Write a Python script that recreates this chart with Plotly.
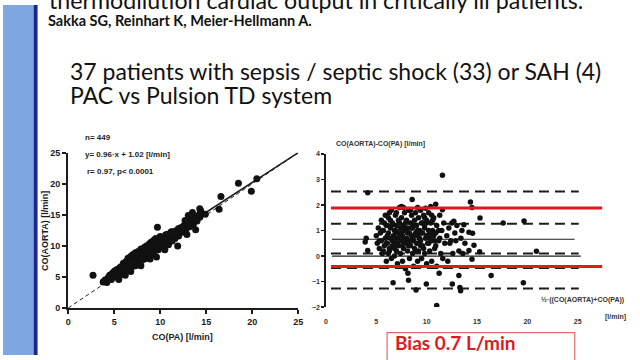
import plotly.graph_objects as go

# ---------------- data ----------------
# Left: CO(PA) vs CO(AORTA) [l/min]
co_pa = [3.8, 4.0, 4.2, 4.4, 4.5, 4.7, 4.8, 5.0, 5.0, 5.2, 5.3, 5.4, 5.5, 5.6, 5.7, 5.8, 5.9, 6.0, 6.0, 6.1,
         6.2, 6.3, 6.4, 6.5, 6.5, 6.6, 6.7, 6.8, 6.8, 6.9, 7.0, 7.0, 7.1, 7.2, 7.3, 7.3, 7.4, 7.5, 7.5, 7.6,
         7.7, 7.8, 7.8, 7.9, 8.0, 8.0, 8.1, 8.2, 8.3, 8.3, 8.4, 8.5, 8.5, 8.6, 8.7, 8.8, 8.8, 8.9, 9.0, 9.0,
         9.1, 9.2, 9.3, 9.3, 9.4, 9.5, 9.5, 9.6, 9.7, 9.8, 9.8, 9.9, 10.0, 10.0, 10.1, 10.2, 10.3, 10.4, 10.5, 10.6,
         10.7, 10.8, 10.9, 11.0, 11.1, 11.2, 11.3, 11.4, 11.5, 11.6, 11.8, 12.0, 12.2, 12.4, 12.6, 12.8, 13.0, 13.2, 13.4, 13.6,
         13.8, 14.0, 14.2, 5.5, 6.2, 7.9, 9.6, 8.9, 2.7, 9.7, 11.9, 12.9, 12.7, 13.85, 13.05, 14.4, 14.3, 14.9, 16.4, 16.6,
         18.5, 19.9, 20.5, 13.5, 12.4, 11.5, 10.5, 10.7, 6.8,
         4.3, 4.6, 4.9, 5.1, 5.4, 5.7, 5.9, 6.2, 6.4, 6.6,
         6.9, 7.1, 7.3, 7.6, 7.8, 8.1, 8.3, 8.6, 8.8, 9.1,
         9.3, 9.6, 9.8, 10.1, 10.3, 10.6, 10.8, 11.1, 11.4, 11.7,
         5.2, 5.8, 6.3, 6.8, 7.3, 7.8, 8.3, 8.8, 9.3, 9.8,
         10.3, 10.8, 11.3, 12.0, 12.5, 13.1, 13.7, 14.3, 6.0, 7.0]
co_aorta = [4.2, 4.5, 4.1, 4.9, 5.3, 4.6, 5.6, 5.1, 5.9, 5.5, 6.2, 4.9, 5.8, 6.5, 6.0, 5.4, 6.8, 6.3, 7.2, 5.8,
            6.9, 7.5, 6.4, 7.0, 8.0, 6.0, 7.6, 7.1, 8.3, 6.6, 7.8, 8.6, 7.2, 8.1, 6.8, 8.9, 7.6, 8.4, 7.0, 9.1,
            8.0, 7.4, 8.7, 9.5, 8.3, 7.7, 9.0, 8.5, 9.8, 7.9, 9.2, 8.7, 10.0, 8.2, 9.5, 9.0, 10.3, 8.5, 9.8, 10.6,
            9.2, 10.1, 8.8, 10.9, 9.6, 10.4, 11.2, 9.9, 10.7, 9.4, 11.0, 10.2, 10.8, 11.5, 9.9, 10.5, 11.3, 10.0, 11.0, 11.8,
            10.6, 11.4, 10.2, 11.9, 11.0, 12.3, 10.8, 11.6, 12.0, 11.2, 12.5, 11.6, 12.9, 12.2, 13.3, 12.7, 13.6, 13.1, 14.2, 13.5,
            14.6, 14.0, 15.0, 4.6, 5.3, 6.8, 8.2, 7.9, 5.3, 13.0, 10.0, 11.85, 14.1, 12.6, 14.9, 15.65, 16.0, 15.1, 15.9, 17.95,
            20.1, 18.8, 20.8, 15.4, 13.05, 11.5, 9.4, 10.4, 5.9,
            4.8, 5.2, 5.5, 6.0, 6.1, 6.6, 6.2, 7.1, 7.3, 7.0,
            7.8, 7.7, 8.2, 8.3, 8.8, 8.9, 9.0, 9.6, 9.4, 10.0,
            9.9, 10.6, 10.6, 11.0, 10.9, 11.5, 11.3, 11.7, 12.3, 12.4,
            5.8, 6.5, 6.8, 7.4, 7.9, 8.0, 9.1, 9.8, 10.2, 10.6,
            10.8, 11.9, 12.0, 12.8, 13.0, 13.8, 14.3, 14.6, 6.6, 7.5]
identity_x = [0, 25]
identity_y = [0, 25]
reg_x = [3.5, 25]
reg_y = [4.38, 25.02]

# Right: Bland-Altman, mean vs difference [l/min]
ba_mean = [3.9, 4.0, 5.0, 5.1, 5.2, 5.3, 5.4, 5.5, 5.5, 5.6, 5.7, 5.8, 5.9, 5.9, 6.0, 6.0, 6.1, 6.2, 6.2, 6.3,
           6.4, 6.4, 6.5, 6.5, 6.6, 6.6, 6.7, 6.8, 6.8, 6.9, 6.9, 7.0, 7.0, 7.1, 7.1, 7.2, 7.2, 7.3, 7.3, 7.4,
           7.4, 7.5, 7.5, 7.6, 7.6, 7.7, 7.7, 7.8, 7.8, 7.9, 7.9, 8.0, 8.0, 8.1, 8.1, 8.2, 8.2, 8.3, 8.3, 8.4,
           8.4, 8.5, 8.5, 8.6, 8.6, 8.7, 8.7, 8.8, 8.8, 8.9, 8.9, 9.0, 9.0, 9.1, 9.1, 9.2, 9.2, 9.3, 9.4, 9.4,
           9.5, 9.5, 9.6, 9.6, 9.7, 9.8, 9.8, 9.9, 10.0, 10.0, 10.1, 10.2, 10.2, 10.3, 10.4, 10.5, 10.5, 10.6, 10.7, 10.8,
           10.9, 11.0, 11.0, 11.2, 11.3, 11.4, 11.5, 11.6, 11.7, 11.8, 12.0, 12.1, 12.2, 12.4, 12.5, 12.6, 12.8, 13.0, 13.2, 13.4,
           13.6, 13.8, 11.57, 4.15, 8.56, 14.35, 14.5, 15.3, 17.6, 19.67, 20.9, 16.4, 19.6, 6.67, 9.97, 12.55, 13.3, 13.37, 8.95, 11.0,
           13.2, 8.2, 8.14, 11.24, 4.15, 14.7, 14.2, 15.26, 14.5, 14.56, 14.2, 13.7, 12.7, 11.57, 10.9, 10.4, 9.9, 7.5,
           5.3, 5.6, 5.8, 6.1, 6.3, 6.5, 6.7, 6.9, 7.1, 7.3,
           7.5, 7.7, 7.9, 8.1, 8.3, 8.5, 8.7, 8.9, 9.1, 9.3,
           9.5, 9.7, 9.9, 10.1, 10.3, 10.6, 10.9,
           6.0, 6.4, 6.8, 7.2, 7.6, 8.0, 8.4, 8.8, 9.2, 9.6,
           10.0, 10.4, 10.8, 11.2,
           5.7, 6.2, 6.6, 7.0, 7.4, 7.8, 8.2, 8.6, 9.0, 9.4,
           9.8, 10.2, 10.7, 11.3, 12.3, 12.9, 13.5,
           6.3, 7.0, 7.7, 8.4, 9.1, 9.8, 10.5]
ba_diff = [0.55, 0.7, 0.8, 0.5, 1.1, 0.3, 0.9, 1.4, 0.6, 0.1, 1.0, 0.4, 1.6, 0.7, -0.2, 1.2, 0.5, 0.9, 1.5, 0.2,
           0.7, 1.1, -0.1, 1.8, 0.4, 1.3, 0.8, 0.0, 1.0, 1.6, 0.5, 0.2, 1.2, 0.7, -0.3, 1.4, 0.4, 0.9, 1.9, 0.1,
           1.1, 0.6, 1.5, -0.2, 0.8, 1.2, 0.3, 1.7, 0.5, 1.0, -0.5, 0.7, 1.4, 0.2, 1.1, 0.6, 1.8, 0.9, -0.1, 1.3,
           0.4, 0.8, 1.6, 0.1, 1.1, 0.6, -0.4, 1.4, 0.3, 0.9, 1.7, 0.5, 1.2, -0.2, 0.8, 1.5, 0.2, 1.0, 0.6, 1.8,
           -0.1, 1.3, 0.4, 0.9, 1.6, 0.1, 1.1, 0.7, 1.4, -0.3, 0.5, 1.0, 1.7, 0.2, 1.3, 0.6, -0.2, 1.0, 1.5, 0.3,
           0.9, 1.2, -0.4, 0.6, 1.6, 0.1, 1.0, -0.1, 1.3, 0.5, 0.8, -0.2, 1.1, 0.6, 1.3, 0.1, 0.9, 1.2, 0.2, 0.7,
           0.1, 0.5, 3.17, 2.48, 2.22, 2.12, 1.9, 1.49, 1.3, 1.37, 0.19, -0.76, -1.05, -1.05, -1.1, -1.1, -1.23, -1.36, -1.33, -1.94,
           -0.76, -0.95, -0.67, -0.67, 0.22, 0.42, 0.22, 0.17, -0.13, 0.89, 0.93, 1.23, 1.36, 1.82, 2.03, 1.94, 1.87, 1.94,
           0.6, 1.0, 1.3, 0.8, 0.3, 1.2, 0.6, 1.0, 0.5, 1.3,
           0.9, 0.6, 1.3, 0.9, 0.5, 1.1, 1.2, 0.2, 1.0, 0.7,
           0.9, 0.3, 1.3, 0.8, 0.7, 1.4, 0.4,
           0.5, 1.4, 0.3, 0.9, 0.4, 1.0, 0.6, 0.8, 0.5, 1.3,
           0.8, 0.9, 0.6, 1.0,
           0.2, 0.1, 0.6, 0.9, 0.8, 1.0, 0.4, 0.7, 0.9, 0.4,
           1.2, 0.5, 0.8, 0.7, 0.5, 0.6, 1.0,
           1.7, 1.7, 1.9, 1.8, 1.9, 1.5, 1.6]
assert len(co_pa) == len(co_aorta)
assert len(ba_mean) == len(ba_diff)

# horizontal reference levels [l/min] and their x extents
dashed_levels = [2.53, 1.27, 0.1, -0.47, -1.27]
dashed_x = [0.5, 25.1]
solid_levels = [0.66, 0.0]
solid_x = [[0.6, 24.7], [0.6, 25.3]]
red_levels = [1.88, -0.41]
red_x = [0.5, 27.45]

tick_vals_x = [0, 5, 10, 15, 20, 25]
tick_vals_y_left = [0, 5, 10, 15, 20, 25]
tick_vals_y_right = [-2, -1, 0, 1, 2, 3, 4]

W, H = 640, 360
def px(x):
    return x / W
def py(y):
    return 1 - y / H

INK = "#1c1c1c"
RED = "#e0191f"
FONT = "Liberation Sans"

fig = go.Figure()

# ----- left scatter -----
fig.add_trace(go.Scatter(x=identity_x, y=identity_y, mode="lines",
                         line=dict(color=INK, width=1, dash="4px,3px"), xaxis="x", yaxis="y"))
fig.add_trace(go.Scatter(x=reg_x, y=reg_y, mode="lines",
                         line=dict(color=INK, width=1.6), xaxis="x", yaxis="y"))
fig.add_trace(go.Scatter(x=co_pa, y=co_aorta, mode="markers",
                         marker=dict(color="#111", size=7, line=dict(width=0)), xaxis="x", yaxis="y"))

# ----- right Bland-Altman -----
for lv in dashed_levels:
    fig.add_trace(go.Scatter(x=dashed_x, y=[lv, lv], mode="lines",
                             line=dict(color=INK, width=2, dash="10px,6px"), xaxis="x2", yaxis="y2"))
for lv, xs in zip(solid_levels, solid_x):
    fig.add_trace(go.Scatter(x=xs, y=[lv, lv], mode="lines",
                             line=dict(color=INK, width=1.2), xaxis="x2", yaxis="y2"))
fig.add_trace(go.Scatter(x=ba_mean, y=ba_diff, mode="markers",
                         marker=dict(color="#111", size=5.5, line=dict(width=0)), xaxis="x2", yaxis="y2"))
for lv in red_levels:
    fig.add_trace(go.Scatter(x=red_x, y=[lv, lv], mode="lines",
                             line=dict(color=RED, width=3), xaxis="x2", yaxis="y2"))

axis_font_l = dict(family=FONT, size=9, color=INK, weight="bold")
axis_font_r = dict(family=FONT, size=7, color="#333", weight="bold")

fig.update_layout(
    width=W, height=H, margin=dict(l=0, r=0, t=0, b=0),
    paper_bgcolor="white", plot_bgcolor="rgba(0,0,0,0)", showlegend=False, hovermode=False,
    xaxis=dict(domain=[px(66), px(299)], range=[0, 25], anchor="y",
               showline=True, linecolor=INK, linewidth=2, ticks="outside", ticklen=4, tickwidth=2,
               tickcolor=INK, tickvals=tick_vals_x, tickfont=axis_font_l, showgrid=False, zeroline=False),
    yaxis=dict(domain=[py(311.7), py(152)], range=[0, 25], anchor="x",
               showline=True, linecolor=INK, linewidth=2, ticks="outside", ticklen=4, tickwidth=2,
               tickcolor=INK, tickvals=tick_vals_y_left, tickfont=axis_font_l, showgrid=False, zeroline=False),
    xaxis2=dict(domain=[px(327), px(607)], range=[0, 27.45], anchor="y2",
                showline=False, ticks="", tickvals=tick_vals_x, tickfont=axis_font_r,
                showgrid=False, zeroline=False, ticklabelstandoff=9),
    yaxis2=dict(domain=[py(310.7), py(153.3)], range=[-2, 4], anchor="x2",
                showline=True, linecolor=INK, linewidth=1.5, ticks="outside", ticklen=3, tickwidth=1.5,
                tickcolor=INK, tickvals=tick_vals_y_right, tickfont=axis_font_r, showgrid=False, zeroline=False),
)

# slide decoration
fig.add_shape(type="rect", xref="paper", yref="paper", x0=0, x1=px(31), y0=0, y1=1,
              fillcolor="#7ea6e0", line=dict(width=0), layer="below")
fig.add_shape(type="rect", xref="paper", yref="paper", x0=px(31), x1=px(35), y0=0, y1=1,
              fillcolor="#1f2590", line=dict(width=0), layer="below")
fig.add_shape(type="rect", xref="paper", yref="paper", x0=px(389), x1=px(579), y0=py(380), y1=py(337),
              fillcolor="white", line=dict(color="#e06a6a", width=1.2), layer="above")

def ann(text, x, y, size, xanchor="left", color=INK, bold=True, family=FONT, angle=0, yanchor="middle"):
    fig.add_annotation(text=text, x=px(x), y=py(y), xref="paper", yref="paper", showarrow=False,
                       xanchor=xanchor, yanchor=yanchor, textangle=angle,
                       font=dict(family=family, size=size, color=color, weight="bold" if bold else "normal"))

SLIDE = "Lato"
ann("thermodilution cardiac output in critically ill patients.", 45, -5, 23.2, color="#111", bold=False, family=SLIDE)
ann("Sakka SG, Reinhart K, Meier-Hellmann A.", 44, 16, 14.5, color="#111", bold=True, family=SLIDE)
ann("37 patients with sepsis / septic shock (33) or SAH (4)", 66, 68, 23, color="#111", bold=False, family=SLIDE)
ann("PAC vs Pulsion TD system", 66, 93, 23, color="#111", bold=False, family=SLIDE)

ann("n= 449", 81, 136, 8)
ann("y= 0.96·x + 1.02 [l/min]", 81, 154, 8)
ann("r= 0.97, p< 0.0001", 83, 171, 8)
ann("CO(AORTA) [l/min]", 42, 232, 9, xanchor="center", angle=-90)
ann("CO(PA) [l/min]", 182, 341, 9, xanchor="center")

ann("CO(AORTA)-CO(PA) [l/min]", 335, 143, 7, color="#333")
ann("½·((CO(AORTA)+CO(PA))", 631, 303, 7, xanchor="right", color="#333")
ann("[l/min]", 620, 321, 7, xanchor="center", color="#333")

ann("Bias 0.7 L/min", 395, 347, 19, color=RED, bold=True, family=SLIDE)

fig.write_html("out.html", config={"displayModeBar": False, "staticPlot": True},
               post_script="document.body.style.margin='0';document.body.style.padding='0';document.body.style.overflow='hidden';")
